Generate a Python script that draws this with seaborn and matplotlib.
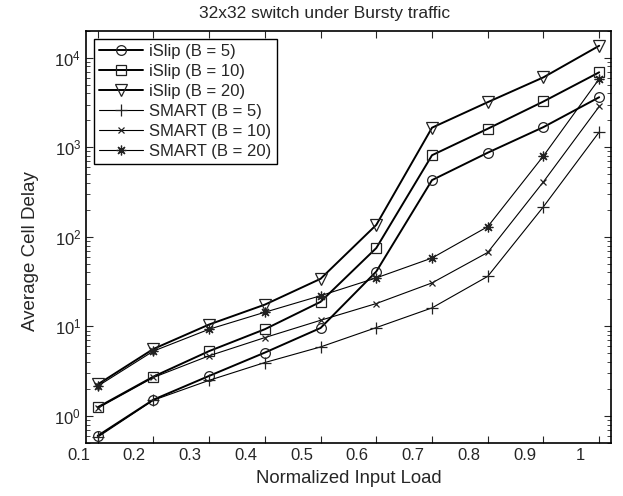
import numpy as np
import pandas as pd
import matplotlib
matplotlib.use("Agg")
import matplotlib.pyplot as plt
import matplotlib.transforms as mtransforms
import seaborn as sns

# ---- data ----
load = [0.1, 0.2, 0.3, 0.4, 0.5, 0.6, 0.7, 0.8, 0.9, 1.0]

islip_b5 = [0.60, 1.52, 2.8, 5.1, 9.6, 41, 430, 870, 1680, 3620]
islip_b10 = [1.25, 2.75, 5.3, 9.3, 18.8, 75, 815, 1610, 3245, 6870]
islip_b20 = [2.25, 5.6, 10.5, 17.5, 34, 136, 1655, 3190, 6040, 13600]
smart_b5 = [0.58, 1.5, 2.5, 3.95, 5.9, 9.7, 16.1, 36.2, 217, 1480]
smart_b10 = [1.22, 2.69, 4.7, 7.5, 11.7, 18, 30.6, 67, 412, 2855]
smart_b20 = [2.15, 5.3, 9.3, 14.4, 22, 34.8, 58, 130, 801, 5800]

series = [
    ("iSlip (B = 5)", islip_b5, "o", 1.4, 7),
    ("iSlip (B = 10)", islip_b10, "s", 1.4, 7),
    ("iSlip (B = 20)", islip_b20, "v", 1.4, 8),
    ("SMART (B = 5)", smart_b5, "+", 0.8, 9),
    ("SMART (B = 10)", smart_b10, "x", 0.8, 4),
    ("SMART (B = 20)", smart_b20, (8, 2, 0), 0.8, 7),
]

sns.set_style("ticks")
plt.rcParams["font.family"] = ["Liberation Sans", "DejaVu Sans"]
plt.rcParams["font.size"] = 12
plt.rcParams["xtick.direction"] = "in"
plt.rcParams["ytick.direction"] = "in"

fig = plt.figure(figsize=(6.23, 4.96), dpi=100)
ax = fig.add_axes([0.138, 0.107, 0.843, 0.831])

for name, vals, mk, lw, ms in series:
    df = pd.DataFrame({"load": load, "delay": vals})
    sns.lineplot(data=df, x="load", y="delay", ax=ax, color="black",
                 linewidth=lw, marker=mk, markersize=ms, fillstyle="none",
                 markeredgecolor="#222222", markeredgewidth=0.9, label=name)

ax.set_yscale("log")
ax.set_xlim(0.079, 1.0215)
ax.set_ylim(0.5, 2e4)
ax.set_xticks(load)
ax.set_xticklabels(["0.1", "0.2", "0.3", "0.4", "0.5", "0.6", "0.7", "0.8", "0.9", "1"])
ax.tick_params(axis="both", which="both", top=True, right=True, labelsize=12)
ax.tick_params(axis="both", which="major", length=5, width=0.8)
ax.tick_params(axis="y", which="minor", length=3, width=0.6)
for sp in ax.spines.values():
    sp.set_linewidth(1.2)
    sp.set_color("black")

# the original's x tick labels sit a bit left of their ticks
offset = mtransforms.ScaledTranslation(-0.19, 0, fig.dpi_scale_trans)
for lbl in ax.get_xticklabels():
    lbl.set_transform(lbl.get_transform() + offset)

ax.set_title("32x32 switch under Bursty traffic", fontsize=12.5, pad=9, x=0.455)
ax.set_xlabel("Normalized Input Load", fontsize=13.3, labelpad=5)
ax.set_ylabel("Average Cell Delay", fontsize=13.5)
ax.yaxis.set_label_coords(-0.089, 0.465)

leg = ax.legend(loc="upper left", fontsize=12, frameon=True, fancybox=False,
                edgecolor="black", framealpha=1, handlelength=2.6,
                borderpad=0.3, labelspacing=0.3, handletextpad=0.4,
                borderaxespad=0.5)
leg.get_frame().set_linewidth(1.0)

fig.savefig("out.png", dpi=100)
